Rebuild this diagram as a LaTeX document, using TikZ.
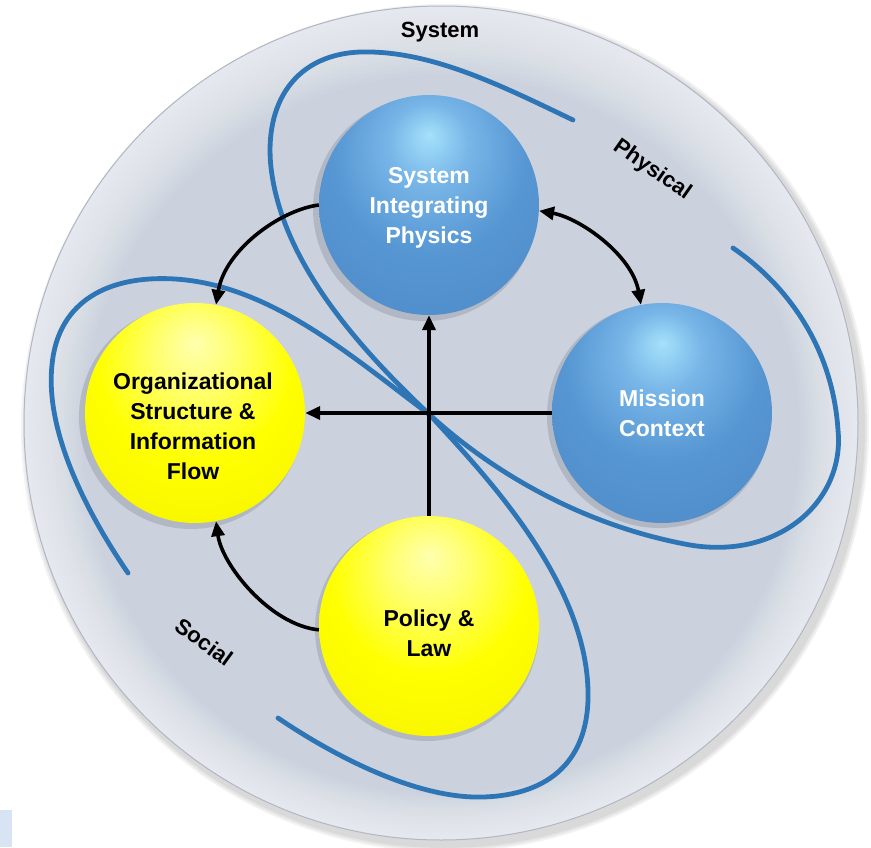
\documentclass[tikz,border=0pt]{standalone}
\usepackage{fontspec}
\setmainfont{Liberation Sans}
\usetikzlibrary{arrows.meta}
\definecolor{discin}{RGB}{203,210,222}
\definecolor{discedge}{RGB}{176,184,196}
\definecolor{loopblue}{RGB}{46,117,182}
\definecolor{smallblue}{RGB}{216,228,244}
\definecolor{bluehi}{RGB}{165,225,250}
\definecolor{bluelt}{RGB}{120,182,232}
\definecolor{bluemd}{RGB}{86,150,210}
\definecolor{bluebody}{RGB}{78,138,200}
\definecolor{bluedk}{RGB}{56,106,166}
\definecolor{yelhi}{RGB}{255,255,175}
\definecolor{yellt}{RGB}{255,255,110}
\definecolor{yelmd}{RGB}{255,255,0}
\definecolor{yelbody}{RGB}{245,242,0}
\definecolor{yeldk}{RGB}{196,192,0}
\pgfdeclareradialshading{bluesph}{\pgfpoint{0bp}{16bp}}{color(0bp)=(bluehi); color(9bp)=(bluelt); color(22bp)=(bluemd); color(42bp)=(bluebody); color(56bp)=(bluedk); color(70bp)=(bluemd)}
\pgfdeclareradialshading{yelsph}{\pgfpoint{0bp}{16bp}}{color(0bp)=(yelhi); color(9bp)=(yellt); color(22bp)=(yelmd); color(42bp)=(yelbody); color(56bp)=(yeldk); color(70bp)=(yelmd)}
\begin{document}
\begin{tikzpicture}[x=1pt,y=-1pt,
  sphere/.style={circle, minimum size=220pt, inner sep=0pt},
  bluesphere/.style={sphere, shading=bluesph},
  yellowsphere/.style={sphere, shading=yelsph},
  spheretext/.style={align=center, font=\fontsize{23}{30}\selectfont\bfseries},
  loopline/.style={draw=loopblue, line width=4.8pt, line cap=round},
  conn/.style={draw=black, line width=3.6pt, -{Triangle[length=15pt,width=13pt]}},
  dconn/.style={draw=black, line width=3.6pt, {Triangle[length=15pt,width=13pt]}-{Triangle[length=15pt,width=13pt]}},
  lbl/.style={font=\fontsize{22}{26}\selectfont\bfseries},
  sshadow/.style={fill=black, opacity=0.12}]
\useasboundingbox (0,0) rectangle (871,847);
\fill[white] (0,0) rectangle (871,847);
\fill[smallblue] (0,810) rectangle (12,847);
% disc shadow
\foreach \r in {424,422,420} \fill[black, opacity=0.05] (445,428) circle (\r);
% disc with lighter rim
\fill[discin] (441,423) circle (417);
\foreach \i in {1,...,16}
  \fill[white, opacity=0.06, even odd rule] (441,423) circle (417) (441,{423+\i*0.7}) circle ({417-\i*3.6});
\draw[discedge, line width=1pt] (441,423) circle (417);
% Physical loop
\draw[loopline] (573,120) .. controls (500,85) and (430,50) .. (360,52)
  .. controls (290,55) and (262,110) .. (272,175)
  .. controls (285,260) and (350,340) .. (430,415)
  .. controls (490,470) and (580,525) .. (690,545)
  .. controls (780,560) and (845,500) .. (838,430)
  .. controls (832,340) and (780,280) .. (733,248);
% Social loop
\draw[loopline] (128,573) .. controls (85,510) and (45,430) .. (52,365)
  .. controls (58,300) and (110,275) .. (175,279)
  .. controls (270,285) and (350,355) .. (430,415)
  .. controls (475,465) and (585,575) .. (588,690)
  .. controls (590,760) and (550,795) .. (483,797)
  .. controls (420,799) and (340,760) .. (278,718);
% sphere shadows
\fill[sshadow] (425,209) circle (112);
\fill[sshadow] (659,416) circle (112);
\fill[sshadow] (191,417) circle (112);
\fill[sshadow] (427,629) circle (112);
% spheres
\node[bluesphere] (sip) at (429,205) {};
\node[bluesphere] (mc) at (662,413) {};
\node[yellowsphere] (org) at (195,413) {};
\node[yellowsphere] (pol) at (429,626) {};
\node[spheretext, text=white] (sipt) at (429,208) {System\\Integrating\\Physics};
\node[spheretext, text=white] (mct) at (662,413) {Mission\\Context};
\node[spheretext, text=black] (orgt) at (193,426) {Organizational\\Structure \&\\Information\\Flow};
\node[spheretext, text=black] (polt) at (429,633) {Policy \&\\Law};
% connectors
\draw[conn] (pol.north) -- (sip.south);
\draw[conn] (mc.west) -- (org.east);
\draw[conn] (sip.west) .. controls (280,210) and (225,250) .. (org.79);
\draw[dconn] (sip.-3) .. controls (580,218) and (632,255) .. (mc.101);
\draw[conn] (pol.182) .. controls (270,625) and (222,565) .. (org.-79);
% labels
\node[lbl] (sys) at (440,32) {System};
\node[lbl, rotate=-35] (phys) at (652,170) {Physical};
\node[lbl, rotate=-36] (soc) at (204,642) {Social};
\end{tikzpicture}
\end{document}
